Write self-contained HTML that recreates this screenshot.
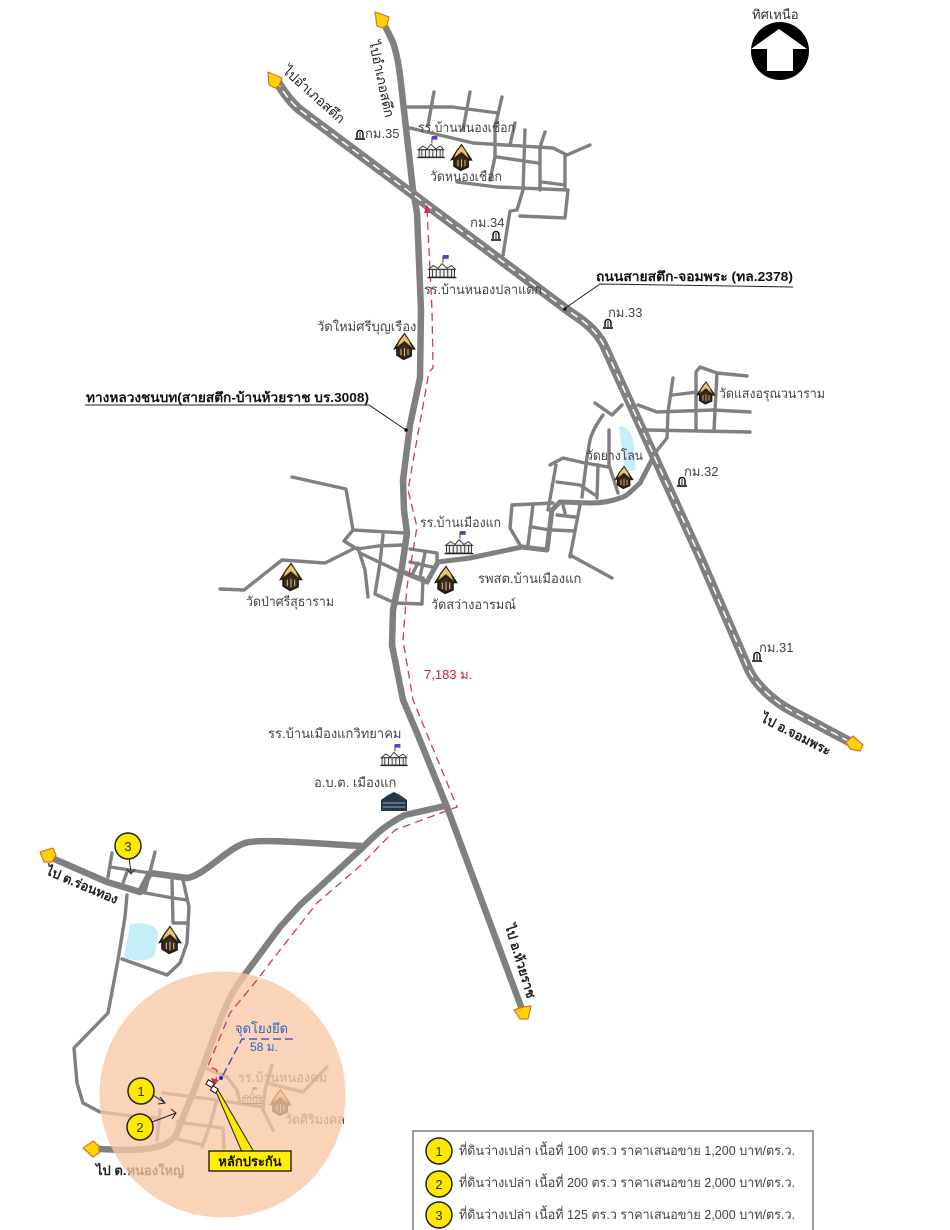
<!DOCTYPE html>
<html lang="th"><head><meta charset="utf-8"><title>แผนที่</title>
<style>html,body{margin:0;padding:0;background:#fff}svg{display:block}
text{font-family:"Liberation Sans","Noto Sans CJK SC",sans-serif;font-size:13px;fill:#444}
.r{fill:none;stroke:#808080;stroke-width:3.4;stroke-linejoin:round;stroke-linecap:round}
.m{fill:none;stroke:#808080;stroke-width:6.5;stroke-linejoin:round;stroke-linecap:butt}
.d{fill:none;stroke:#d8345a;stroke-width:1.3;stroke-dasharray:8 5}
.b{fill:#ffe800;stroke:#222;stroke-width:1.5}
.n{font-size:13px;fill:#333;text-anchor:middle}
.a{fill:#ffd400;stroke:#e0702a;stroke-width:1.2;stroke-linejoin:round}
</style></head><body>
<svg width="950" height="1230" viewBox="0 0 950 1230" xmlns="http://www.w3.org/2000/svg">
<defs>
<symbol id="wat" viewBox="0 0 24 30" overflow="visible">
<path d="M12 0 L18 9 L24 18 L20 18 L20 26 L11 30 L3 25 L3 17 L0 18 L6 8 Z" fill="#2a1e10" stroke="#111" stroke-width="1"/>
<path d="M12 1L6 9 3 16 12 9 21 17 17 8Z" fill="#e6c873" stroke="#5b3d12" stroke-width=".8"/>
<path d="M5 17 L12 12 L19 18 L19 25 L11 28 L5 24Z" fill="#3a2a18"/>
<path d="M8 18v7M12 17v9M16 18v7" stroke="#cdb98a" stroke-width="1.2"/>
</symbol>
<symbol id="sch" viewBox="0 0 30 24" overflow="visible">
<path d="M16 1v7" stroke="#333"/><path d="M16 0h6v4h-6z" fill="#6a3bb5"/>
<path d="M1 15 L6 11 L11 14 L15 9 L20 14 L25 11 L29 15Z" fill="#fff" stroke="#333"/>
<path d="M2 15h26v8H2z" fill="#eee" stroke="#333"/>
<path d="M5 15v8M9 15v8M13 15v8M17 15v8M21 15v8M25 15v8" stroke="#333"/><path d="M0 23.5h30" stroke="#222" stroke-width="1.4"/>
</symbol>
<symbol id="km" viewBox="0 0 10 10" overflow="visible">
<path d="M2 8V3.5A3 3 0 0 1 8 3.500V8" fill="#fff" stroke="#111" stroke-width="1.5"/><path d="M0 9h10" stroke="#111" stroke-width="1.600"/><path d="M5 2V8" stroke="#111"/>
</symbol>
</defs>

<!-- water -->
<path d="M130 925 C142 921 156 925 158 932 L156 952 C152 962 136 962 124 958 Z" fill="#c5eef8"/>
<path d="M619 427 C626 424 632 432 634 445 L636 470 L625 472 Z" fill="#c5eef8"/>

<!-- minor roads: north cluster -->
<g class="r">
<path d="M407 107 L452 107 L498 113"/><path d="M434 92 L428 125"/><path d="M470 92 L463 130"/><path d="M502 97 L495 127 L495 157 L490 180"/>
<path d="M410 128 L473 143 L553 148 L567 155 L590 145"/><path d="M515 123 L510 145"/><path d="M525 130 L523 190 L517 210 L510 211 L503 255"/><path d="M545 132 L540 147 L540 190"/><path d="M565 155 L565 187"/>
<path d="M497 157 L538 163"/><path d="M542 182 L565 185"/><path d="M457 182 L497 187 L568 190 L565 218 L520 216"/>
</g>
<!-- minor roads: east cluster -->
<g class="r">
<path d="M595 403 L612 415 L622 405"/><path d="M603 415 C596 425 592 432 590 440 L587 457 L582 497"/><path d="M609 430 L609 465 L618 493"/>
<path d="M638 405 L657 412 L713 410 L750 412"/><path d="M673 378 L668 412 L667 438 L655 453"/><path d="M673 395 L697 392"/>
<path d="M696 430 L696 372 L700 367 L717 373 L747 376"/><path d="M717 373 L714 430"/><path d="M647 430 L750 432"/>
<path d="M550 465 L563 458 L585 463 L608 467"/><path d="M556 465 L548 510"/><path d="M557 482 L580 485 L595 495"/><path d="M598 465 L597 498"/>
<path d="M512 505 L553 503"/><path d="M512 505 L510 528 L520 545"/><path d="M533 505 L528 545"/><path d="M532 527 L550 530"/><path d="M557 515 L575 517"/><path d="M553 530 L575 531"/><path d="M563 505 L565 513"/><path d="M580 505 L570 557"/>
<path d="M570 555 L612 578"/>
</g>
<!-- minor roads: centre -->
<g class="r">
<path d="M292 477 L346 489 L353 530 L405 533"/><path d="M353 530 L344 541 L357 549 L378 546 L403 545"/><path d="M220 589 L244 590 L282 560 L325 563 L353 549"/><path d="M358 548 L365 570 L368 597"/>
<path d="M383 535 L380 563 L375 594 L395 603 L422 604 L423 578"/><path d="M360 553 L400 572"/>
<path d="M410 549 L437 553 L437 562"/><path d="M425 553 L420 577"/><path d="M410 562 L432 567"/><path d="M418 563 L413 573"/>
</g>
<!-- minor roads: south-west -->
<g class="r">
<path d="M112 853 L108 877"/><path d="M110 867 L150 873"/><path d="M127 872 L123 883"/><path d="M155 852 L145 892"/>
<path d="M140 892 L173 898 L187 900"/><path d="M172 880 L173 923 L187 923"/><path d="M183 880 L189 907 L187 943 L180 963 L167 975 L122 959"/>
<path d="M127 895 L125 917 L118 960 L108 1013 L74 1048 L77 1083 L83 1103 L100 1112 L140 1117 L160 1118"/>
<path d="M163 1093 L217 1100 L263 1107"/><path d="M160 1110 L157 1140"/><path d="M177 1122 L223 1128 L224 1148"/><path d="M217 1100 L210 1125 L202 1147"/><path d="M173 1138 L203 1145"/>
<path d="M203 1067 L227 1077 L237 1090 L240 1103"/><path d="M272 1065 L265 1090 L263 1110 L273 1130"/><path d="M267 1083 L303 1092 L327 1067"/>
</g>

<!-- main roads -->
<g class="m">
<path d="M385 26 L390 36 C395 45 398 60 400 75 L413 190 L417 213 L421 310 L420 378 L410 425 L403 480 L404 510 L407 533 L402 567 L393 610 L392 645 L403 700 L417 733 L447 807 L523 1012"/>
<path d="M445 806 L405 815 C385 825 375 835 360 850 L300 905 L280 927 L243 977 C225 1000 215 1035 200 1075 L176 1135 C168 1146 155 1149 130 1150 L96 1149"/>
<path d="M52 858 L107 882 L140 892 L150 873 L187 878 C205 875 225 850 245 843 C262 838 320 844 362 846"/>
<path d="M653 458 L640 483 C632 490 628 496 620 498 C610 502 600 503 590 503 L560 502 L552 510 L547 550 L522 547 L470 558 L438 562 L427 582 L403 572" style="stroke-width:5"/>
</g>
<!-- highway -->
<path d="M276 80 C282 90 290 102 300 110 L570 312 C590 325 600 335 606 350 L700 557 L748 668 C755 685 775 702 790 710 L852 743" fill="none" stroke="#808080" stroke-width="9.500" stroke-linejoin="round"/>
<path d="M276 80 C282 90 290 102 300 110 L570 312 C590 325 600 335 606 350 L700 557 L748 668 C755 685 775 702 790 710 L852 743" fill="none" stroke="#fff" stroke-width="1.500" stroke-dasharray="8 5"/>

<!-- map labels below circle -->
<text x="238" y="1082" textLength="89" lengthAdjust="spacingAndGlyphs">รร.บ้านหนองคม</text>
<text x="285" y="1124" textLength="60" lengthAdjust="spacingAndGlyphs">วัดศิริมงคล</text>
<use href="#sch" x="241" y="1087" width="22" height="17"/>
<use href="#wat" x="270" y="1089" width="21" height="27"/>
<text x="96" y="1175" style="fill:#222;font-weight:bold">ไป ต.หนองใหญ่</text>

<!-- circle -->
<circle cx="222.500" cy="1094.500" r="123" fill="#f8c8a5" fill-opacity=".78"/>

<!-- distance line -->
<path class="d" d="M427 209 L432 310 L433 368 L429 372 L408 490 L417 527 L407 587 L403 640 L413 700 L457 807 L395 830 L360 866 L317 903 L280 950 L257 980 L230 1013 L208 1066 L217 1070 L216 1082"/>
<path d="M427 204 L424 213 L430 213Z" fill="#c8324e"/>
<path d="M214 1086 L211 1078 L219 1080Z" fill="#c8324e"/>

<!-- arrow ends -->
<g class="a">
<path d="M375 12 L389 17 L387 25 L383 28 L377 26Z"/>
<path d="M268 72 L282 78 L279 86 L275 88 L269 85Z"/>
<path d="M846 742 L853 736 L863 745 L860 751 L850 749Z"/>
<path d="M514 1010 L523 1007 L531 1006 L528 1019 L520 1019Z"/>
<path d="M40 852 L53 848 L56 855 L52 862 L44 862Z"/>
<path d="M83 1148 L93 1141 L99 1146 L99 1153 L93 1157Z"/>
</g>

<!-- north compass -->
<text x="752" y="19" style="font-size:13px;fill:#333">ทิศเหนือ</text>
<circle cx="780" cy="51" r="29" fill="#000"/>
<path d="M779 29 L807 49 L793 49 L793 71 L767 71 L767 49 L751 49Z" fill="#fff"/>

<!-- rotated road labels -->
<text transform="translate(369 42) rotate(78)" style="fill:#222;font-size:13.500px">ไปอำเภอสตึก</text>
<text transform="translate(282 72) rotate(42)" style="fill:#222;font-size:13.500px">ไปอำเภอสตึก</text>
<text transform="translate(760 721) rotate(27)" style="fill:#222;font-size:13px;font-weight:bold">ไป อ.จอมพระ</text>
<text transform="translate(45 874) rotate(23)" style="fill:#222;font-weight:bold">ไป ต.ร่อนทอง</text>
<text transform="translate(505 926) rotate(73)" style="fill:#222;font-weight:bold">ไป อ.ห้วยราช</text>

<!-- km markers -->
<use href="#km" x="355" y="130" width="10" height="10"/><text x="365" y="138">กม.35</text>
<use href="#km" x="491" y="231" width="10" height="10"/><text x="470" y="227">กม.34</text>
<use href="#km" x="603" y="319" width="10" height="10"/><text x="608" y="317">กม.33</text>
<use href="#km" x="677" y="477" width="10" height="10"/><text x="684" y="476">กม.32</text>
<use href="#km" x="752" y="652" width="10" height="10"/><text x="759" y="652">กม.31</text>

<!-- place labels -->
<text x="418" y="132" textLength="97" lengthAdjust="spacingAndGlyphs">รร.บ้านหนองเชือก</text>
<use href="#sch" x="416" y="136" width="30" height="22"/>
<use href="#wat" x="451" y="144" width="21" height="27"/>
<text x="430" y="181" textLength="72" lengthAdjust="spacingAndGlyphs">วัดหนองเชือก</text>
<use href="#sch" x="427" y="255" width="30" height="23"/>
<text x="424" y="294" textLength="118" lengthAdjust="spacingAndGlyphs">รร.บ้านหนองปลาแดก</text>
<text x="317" y="331">วัดใหม่ศรีบุญเรือง</text>
<use href="#wat" x="394" y="333" width="21" height="27"/>
<use href="#wat" x="697" y="381" width="18" height="24"/>
<text x="719" y="398" textLength="106" lengthAdjust="spacingAndGlyphs">วัดแสงอรุณวนาราม</text>
<text x="586" y="460" textLength="57" lengthAdjust="spacingAndGlyphs">วัดยางโลน</text>
<use href="#wat" x="615" y="466" width="18" height="23"/>
<text x="420" y="527" textLength="81" lengthAdjust="spacingAndGlyphs">รร.บ้านเมืองแก</text>
<use href="#sch" x="444" y="531" width="30" height="23"/>
<use href="#wat" x="435" y="566" width="22" height="28"/>
<text x="478" y="583">รพสต.บ้านเมืองแก</text>
<text x="431" y="609" textLength="85" lengthAdjust="spacingAndGlyphs">วัดสว่างอารมณ์</text>
<use href="#wat" x="280" y="563" width="22" height="28"/>
<text x="246" y="606" textLength="88" lengthAdjust="spacingAndGlyphs">วัดป่าศรีสุธาราม</text>
<text x="424" y="679" style="fill:#d01f2f">7,183 ม.</text>
<text x="268" y="738">รร.บ้านเมืองแกวิทยาคม</text>
<use href="#sch" x="379" y="744" width="30" height="22"/>
<text x="314" y="787">อ.บ.ต. เมืองแก</text>
<path d="M381 811 L381 800 L388 795 L394 792 L400 795 L407 800 L407 811Z" fill="#26374a"/>
<path d="M383 803H405M383 807H405" stroke="#9ab" stroke-width="1"/>
<use href="#wat" x="159" y="926" width="22" height="28"/>

<!-- leader labels -->
<path d="M564 309 L600 284 L793 287" fill="none" stroke="#222" stroke-width="1"/><circle cx="565" cy="309" r="1.800" fill="#111"/>
<text x="596" y="281" textLength="197" lengthAdjust="spacingAndGlyphs" style="fill:#111;font-weight:bold">ถนนสายสตึก-จอมพระ (ทล.2378)</text>
<path d="M85 405 L369 405 L406 430" fill="none" stroke="#222" stroke-width="1"/><circle cx="406" cy="430" r="1.800" fill="#111"/>
<text x="86" y="402" textLength="283" lengthAdjust="spacingAndGlyphs" style="fill:#111;font-weight:bold">ทางหลวงชนบท(สายสตึก-บ้านห้วยราช บร.3008)</text>

<!-- anchor -->
<text x="235" y="1033" style="fill:#2a63c9;font-size:13px">จุดโยงยึด</text>
<text x="250" y="1051" style="fill:#2a63c9;font-size:12px">58 ม.</text>
<path d="M293 1039 L242 1039 L222 1077" fill="none" stroke="#3a3ad0" stroke-width="1.300" stroke-dasharray="8 4"/>
<circle cx="221" cy="1078" r="2" fill="#1a2ad0"/>
<path d="M214 1087 L218 1090 L254 1152 L242 1152 Z" fill="#ffe800" stroke="#222" stroke-width="1"/>
<rect x="207" y="1081" width="7" height="5" fill="#fff" stroke="#111" transform="rotate(30 210 1083)"/><rect x="211" y="1087" width="6" height="5" fill="#fff" stroke="#111" transform="rotate(30 214 1090)"/>
<rect x="209" y="1151" width="82" height="20" fill="#ffee00" stroke="#111" stroke-width="1.300"/>
<text x="250" y="1166" style="fill:#111;font-weight:bold;text-anchor:middle;font-size:13px">หลักประกัน</text>

<!-- numbered markers on map -->
<path d="M153 1095 L165 1103 M160 1097 L165 1103 L158 1104" fill="none" stroke="#222"/>
<path d="M152 1122 L176 1113 M171 1109 L176 1113 L172 1119" fill="none" stroke="#222"/>
<path d="M129 857 L131 873 M127 869 L131 874 L135 869" fill="none" stroke="#222"/>
<circle cx="141" cy="1091" r="13" class="b"/><text x="141" y="1096" class="n">1</text>
<circle cx="140" cy="1127" r="13" class="b"/><text x="140" y="1132" class="n">2</text>
<circle cx="128" cy="846" r="13" class="b"/><text x="128" y="851" class="n">3</text>

<!-- legend -->
<rect x="413" y="1131" width="400" height="110" fill="#fff" stroke="#666" stroke-width="1.300"/>
<circle cx="439" cy="1151" r="13" class="b"/><text x="439" y="1156" class="n">1</text>
<circle cx="439" cy="1184" r="13" class="b"/><text x="439" y="1189" class="n">2</text>
<circle cx="439" cy="1215" r="13" class="b"/><text x="439" y="1220" class="n">3</text>
<text x="459" y="1155" textLength="336" lengthAdjust="spacingAndGlyphs">ที่ดินว่างเปล่า เนื้อที่ 100 ตร.ว ราคาเสนอขาย 1,200 บาท/ตร.ว.</text>
<text x="459" y="1187" textLength="336" lengthAdjust="spacingAndGlyphs">ที่ดินว่างเปล่า เนื้อที่ 200 ตร.ว ราคาเสนอขาย 2,000 บาท/ตร.ว.</text>
<text x="459" y="1219" textLength="336" lengthAdjust="spacingAndGlyphs">ที่ดินว่างเปล่า เนื้อที่ 125 ตร.ว ราคาเสนอขาย 2,000 บาท/ตร.ว.</text>
</svg>
</body></html>
